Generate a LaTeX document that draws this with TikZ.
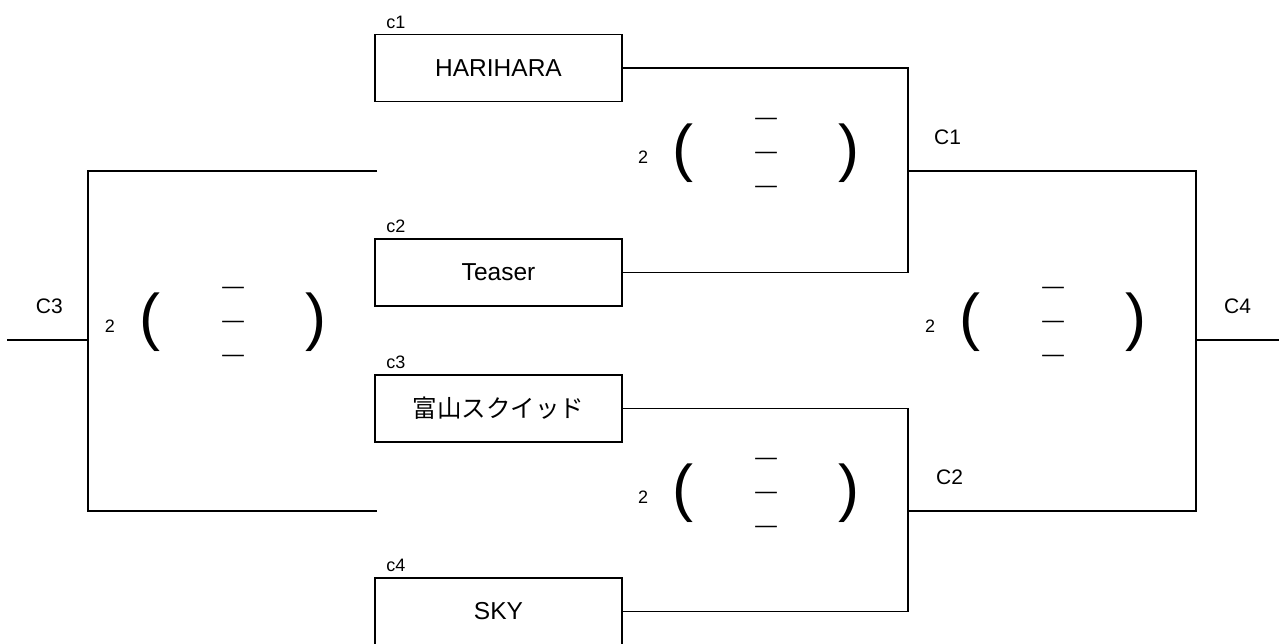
\documentclass[tikz,border=0pt]{standalone}
\usepackage{fontspec}
\setmainfont{Liberation Sans}
\newfontfamily\jpfont{Noto Sans CJK JP}
\newfontfamily\jpthick[FakeBold=1.2]{Noto Sans CJK JP}
\usetikzlibrary{positioning}

\tikzset{
  team/.style={draw, line width=1.8pt, minimum width=247pt, minimum height=67pt,
    inner sep=0pt, font=\fontsize{24.5}{28}\selectfont},
  seed/.style={font=\fontsize{18}{20}\selectfont, inner sep=0pt},
  match/.style={font=\fontsize{21}{24}\selectfont, inner sep=0pt},
  num/.style={font=\fontsize{18}{20}\selectfont, inner sep=0pt},
  paren/.style={font=\fontsize{63}{63}\selectfont, inner sep=0pt},
  dashmark/.style={font=\jpthick\fontsize{25}{25}\selectfont, inner sep=0pt},
  wire/.style={line width=1.8pt}
}

\begin{document}
\begin{tikzpicture}[x=1pt, y=-1pt]
  \useasboundingbox (0,0) rectangle (1279,644);

  % Teams
  \node[team] (team1) at (498.5,68) {HARIHARA};
  \node[team] (team2) at (498.5,272.5) {Teaser};
  \node[team] (team3) at (498.5,408.5) {\jpfont 富山スクイッド};
  \node[team] (team4) at (498.5,611.5) {SKY};

  \node[seed, above right=5pt and 12pt of team1.north west] (c1) {c1};
  \node[seed, above right=5pt and 12pt of team2.north west] (c2) {c2};
  \node[seed, above right=5pt and 12pt of team3.north west] (c3) {c3};
  \node[seed, above right=5pt and 12pt of team4.north west] (c4) {c4};

  % Junctions
  \coordinate (j1) at (908,171);
  \coordinate (j2) at (908,511);
  \coordinate (j3) at (88,340);
  \coordinate (j4) at (1196,340);
  \coordinate (top3) at (377,171);
  \coordinate (bot3) at (377,511);
  \coordinate (out3) at (7,340);
  \coordinate (out4) at (1279,340);

  \draw[wire] (team1.east) -| (j1) |- (team2.east);
  \draw[wire] (team3.east) -| (j2) |- (team4.east);
  \draw[wire] (j1) -| (j4) -- (out4);
  \draw[wire] (j2) -| (j4);
  \draw[wire] (top3) -| (j3) |- (bot3);
  \draw[wire] (j3) -- (out3);

  \node[match, above right=26pt and 26pt of j1] (C1) {C1};
  \node[match, above right=26pt and 28pt of j2] (C2) {C2};
  \node[match, above left=26pt and 25pt of j3] (C3) {C3};
  \node[match, above right=26pt and 28pt of j4] (C4) {C4};

  % Scores
  \foreach \gx/\gy/\g in {643/157/s1, 643/497/s2, 110/326/s3, 930/326/s4}{
    \node[num] (\g-n) at (\gx,\gy) {2};
    \node[paren] (\g-l) at (\gx+40,\gy-3.5) {(};
    \node[paren] (\g-r) at (\gx+206,\gy-3.5) {)};
    \foreach \k in {-1,0,1}
      \node[dashmark] (\g-d\k) at (\gx+123,\gy+34*\k) {―};
  }
\end{tikzpicture}
\end{document}
